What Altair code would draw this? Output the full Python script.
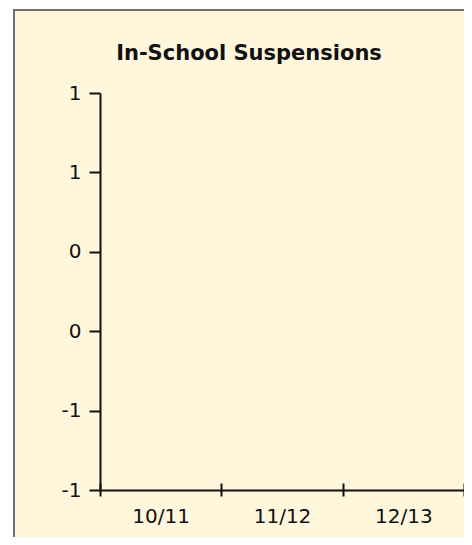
import altair as alt
import pandas as pd

# ---- data ----
years = ["10/11", "11/12", "12/13"]
suspensions = [None, None, None]          # no values shown in the chart
y_domain = [-1, 1]
y_ticks = [-1, -0.6, -0.2, 0.2, 0.6, 1]
title_text = "In-School Suspensions"

df = pd.DataFrame({"year": years, "value": suspensions})
frame_df = pd.DataFrame({"k": [0]})
title_df = pd.DataFrame({"t": [title_text]})

FONT = "DejaVu Sans"
INK = "#111111"
BG = "#FFF6DC"

xscale = alt.Scale(type="band", domain=years, paddingInner=0, paddingOuter=0)
yscale = alt.Scale(domain=y_domain, nice=False, zero=False)

# panel background with the grey frame
frame = alt.Chart(frame_df).mark_rect(
    fill=BG, stroke="#6E6E6E", strokeWidth=2, clip=False
).encode(
    x=alt.value(-86), x2=alt.value(430), y=alt.value(-83), y2=alt.value(470)
)

# chart title
title = alt.Chart(title_df).mark_text(
    font=FONT, fontSize=21, fontWeight="bold", color=INK,
    align="center", baseline="alphabetic", clip=False,
).encode(
    text="t:N", x=alt.value(149), y=alt.value(-33)
)

main = alt.Chart(df).mark_bar(opacity=0).encode(
    x=alt.X(
        "year:N", scale=xscale, sort=years, title=None,
        axis=alt.Axis(
            orient="bottom", labelAngle=0, tickBand="extent",
            domainColor=INK, domainWidth=2, tickColor=INK, tickWidth=2, tickSize=6,
            labelFont=FONT, labelFontSize=20, labelColor=INK, labelPadding=10,
            zindex=1,
        ),
    ),
    y=alt.Y(
        "value:Q", scale=yscale, title=None,
        axis=alt.Axis(
            values=y_ticks, labelExpr="'' + round(datum.value)", grid=False,
            domainColor=INK, domainWidth=2, tickColor=INK, tickWidth=2, tickSize=11,
            labelFont=FONT, labelFontSize=20, labelColor=INK, labelPadding=8,
            zindex=1,
        ),
    ),
)

# upward halves of the x-axis ticks
up_ticks = alt.Chart(df).mark_bar(opacity=0).encode(
    x=alt.X(
        "year:N", scale=xscale, sort=years, title=None,
        axis=alt.Axis(
            orient="bottom", offset=-7, domain=False, labels=False, tickBand="extent",
            tickColor=INK, tickWidth=2, tickSize=7, zindex=1,
        ),
    ),
)

chart = alt.layer(frame, title, main, up_ticks).resolve_axis(x="independent").properties(
    width=364,
    height=397,
    autosize=alt.AutoSizeParams(type="none"),
    padding={"left": 92, "top": 85, "right": 0, "bottom": 47},
    background="white",
).configure_view(stroke=None)

chart.save("out.html", embed_options={"renderer": "svg", "actions": False})
